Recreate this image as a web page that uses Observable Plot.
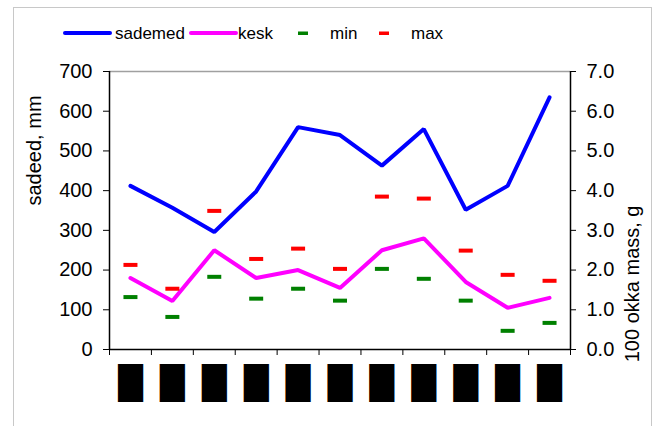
<!DOCTYPE html>
<html><head><meta charset="utf-8">
<script src="https://cdn.jsdelivr.net/npm/d3@7"></script>
<script src="https://cdn.jsdelivr.net/npm/@observablehq/plot@0.6"></script>
<style>
body{margin:0;background:#fff;}
#wrap{position:relative;width:658px;height:426px;overflow:hidden;font-family:"Liberation Sans",Arial,sans-serif;}
#frame{position:absolute;left:13px;top:7px;width:637px;height:440px;border:1px solid #c8c8c8;}
#chart{position:absolute;left:0;top:0;}
#legend{position:absolute;left:0;top:0;}
</style></head>
<body>
<div id="wrap"><div id="frame"></div><div id="chart"></div><svg id="legend" width="658" height="60"></svg></div>
<script>
// Category labels are redacted in the reference (black boxes)
const categories = ["█","█","█","█","█","█","█","█","█","█","█"];
const sademed = [412, 357, 296, 398, 560, 540, 463, 555, 352, 412, 635];      // mm, left axis
const kesk    = [1.80, 1.22, 2.50, 1.80, 2.00, 1.55, 2.50, 2.80, 1.70, 1.05, 1.30]; // g, right axis
const minVals = [1.32, 0.82, 1.83, 1.28, 1.53, 1.23, 2.03, 1.78, 1.23, 0.47, 0.67];
const maxVals = [2.13, 1.53, 3.49, 2.28, 2.54, 2.03, 3.85, 3.80, 2.49, 1.88, 1.73];
const leftTicks = [0, 100, 200, 300, 400, 500, 600, 700];
const rightTicks = [0, 1, 2, 3, 4, 5, 6, 7];
const leftTitle = "sadeed, mm";
const rightTitle = "100 okka mass, g";
const legendItems = [
  {name: "sademed", color: "#0000FF", kind: "line"},
  {name: "kesk", color: "#FF00FF", kind: "line"},
  {name: "min", color: "#008000", kind: "dash"},
  {name: "max", color: "#FF0000", kind: "dash"}
];

const ratio = 100; // right axis (g) mapped onto left axis (mm)
const idx = categories.map((_, i) => i);
const dash = {draw(ctx) { ctx.rect(-7, -2, 14, 4); }};
const font = "Liberation Sans, Arial, sans-serif";

const plot = Plot.plot({
  width: 658, height: 426,
  marginLeft: 109, marginRight: 88, marginTop: 71, marginBottom: 77,
  style: {fontFamily: font, background: "transparent", overflow: "visible"},
  x: {type: "linear", domain: [0, categories.length]},
  y: {domain: [0, 700]},
  marks: [
    Plot.ruleY([700], {stroke: "#a0a0a0", strokeWidth: 1.5}),
    Plot.axisY(leftTicks, {anchor: "left", tickSize: 6, tickPadding: 11, fontSize: 20, label: null, stroke: "#000", color: "#000"}),
    Plot.axisY(rightTicks.map(v => v * ratio), {anchor: "right", tickSize: 5, tickPadding: 11, fontSize: 20, label: null, tickFormat: d => (d / ratio).toFixed(1)}),
    Plot.axisX(d3.range(categories.length + 1), {tickSize: 6, tickFormat: () => "", label: null}),
    Plot.axisX(idx.map(i => i + 0.5), {tickSize: 0, tickPadding: 22, fontSize: 32, fontFamily: "DejaVu Sans", label: null, tickFormat: d => categories[Math.floor(d)]}),
    Plot.ruleX([0, categories.length], {stroke: "#000", strokeWidth: 1.5}),
    Plot.ruleY([0], {stroke: "#000", strokeWidth: 1.5}),
    Plot.text([leftTitle], {frameAnchor: "left", dx: -75, dy: -5, rotate: -90, fontSize: 20, fill: "#000"}),
    Plot.text([rightTitle], {frameAnchor: "right", dx: 62, dy: -5, rotate: -90, fontSize: 20, fill: "#000"}),
    Plot.line(sademed, {x: (d, i) => i + 0.5, y: d => d, stroke: "#0000FF", strokeWidth: 4, strokeLinejoin: "miter"}),
    Plot.line(kesk, {x: (d, i) => i + 0.5, y: d => d * ratio, stroke: "#FF00FF", strokeWidth: 4, strokeLinejoin: "miter"}),
    Plot.dot(minVals, {x: (d, i) => i + 0.5, y: d => d * ratio, symbol: dash, fill: "#008000", stroke: null}),
    Plot.dot(maxVals, {x: (d, i) => i + 0.5, y: d => d * ratio, symbol: dash, fill: "#FF0000", stroke: null})
  ]
});
document.getElementById("chart").appendChild(plot);

// legend
const lg = d3.select("#legend");
const pos = [{sx: 65, sw: 45, tx: 115}, {sx: 191, sw: 45, tx: 238}, {sx: 298, sw: 10, tx: 330}, {sx: 379, sw: 10, tx: 411}];
legendItems.forEach((it, i) => {
  const p = pos[i];
  if (it.kind === "line") {
    lg.append("line").attr("x1", p.sx).attr("x2", p.sx + p.sw).attr("y1", 33).attr("y2", 33)
      .attr("stroke", it.color).attr("stroke-width", 4).attr("stroke-linecap", "round");
  } else {
    lg.append("rect").attr("x", p.sx).attr("y", 31.5).attr("width", p.sw).attr("height", 3.5).attr("fill", it.color);
  }
  lg.append("text").attr("x", p.tx).attr("y", 39).attr("font-family", font).attr("font-size", 17).attr("fill", "#000").text(it.name);
});
</script>
</body></html>
